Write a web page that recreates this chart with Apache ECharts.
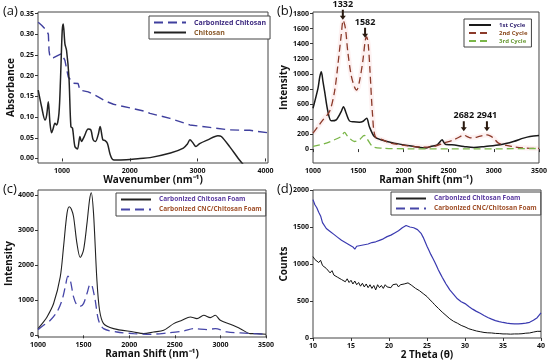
<!DOCTYPE html>
<html><head><meta charset="utf-8">
<script src="https://cdn.jsdelivr.net/npm/echarts@6.0.0/dist/echarts.min.js"></script>
<style>html,body{margin:0;padding:0;background:#fff}#c{width:550px;height:363px}</style>
</head><body><div id="c"></div>
<script>
// ---------- Panel (a): FTIR absorbance ----------
const aWaveChit = [650,700,750,775,799,824,847,870,897,921,956,980,1004,1019,1044,1068,1103,1132,1156,1191,1229,1265,1288,1328,1387,1426,1460,1494,1534,1563,1603,1637,1671,1710,1750,1800,1950,2150,2300,2600,2790,2850,2887,2930,2975,3030,3150,3300,3350,3475,3600,3700,3750];
const aAbsChit  = [0.165,0.125,0.093,0.105,0.137,0.085,0.062,0.072,0.085,0.081,0.109,0.197,0.309,0.325,0.277,0.261,0.197,0.077,0.073,0.029,0.023,0.053,0.041,0.053,0.071,0.069,0.045,0.041,0.057,0.077,0.045,0.043,0.036,0.01,-0.003,-0.004,-0.003,0.0,0.002,0.013,0.025,0.035,0.045,0.038,0.029,0.036,0.045,0.055,0.053,0.028,0.0,-0.02,-0.03];
const aWaveCarb = [650,700,774,800,810,824,870,950,995,1044,1093,1166,1239,1265,1387,1534,1650,1760,2005,2250,2298,2593,2887,3181,3475,3769,4040];
const aAbsCarb  = [0.329,0.322,0.309,0.30,0.26,0.245,0.243,0.25,0.253,0.237,0.197,0.182,0.181,0.165,0.161,0.149,0.138,0.131,0.122,0.113,0.109,0.097,0.081,0.075,0.069,0.068,0.062];
const aXTicks = [1000,2000,3000,4000];
const aYTicks = [0,0.05,0.10,0.15,0.20,0.25,0.30,0.35];
const aNames = ['Carbonized Chitosan','Chitosan'];

// ---------- Panel (b): Raman cycles ----------
const bX1 = [1000,1055,1075,1092,1110,1129,1165,1202,1257,1312,1337,1367,1403,1450,1513,1555,1594,1623,1678,1751,1898,2118,2250,2301,2375,2429,2445,2470,2536,2668,2778,2905,3071,3218,3328,3401,3500];
const bY1 = [543,808,960,1028,900,763,498,375,388,498,564,477,375,362,357,370,410,300,167,124,79,35,13,35,57,123,95,60,57,35,20,35,57,101,146,168,180];
const bX2 = [1000,1055,1110,1183,1238,1275,1312,1334,1359,1385,1422,1458,1484,1513,1550,1579,1594,1612,1631,1659,1689,1769,1861,2045,2228,2338,2448,2558,2631,2660,2700,2741,2815,2880,2925,2960,2998,3052,3198,3365,3500];
const bY2 = [212,300,388,498,763,1116,1513,1712,1602,1292,984,829,785,895,1160,1450,1491,1380,1028,454,167,123,79,44,26,35,79,124,168,189,170,150,160,180,189,175,146,79,35,13,9];
const bX3 = [1000,1128,1238,1312,1348,1385,1458,1513,1568,1605,1660,1751,2045,2778,3500];
const bY3 = [35,71,124,168,221,168,101,124,181,124,35,13,4,2,8];
const bXTicks = [1000,1500,2000,2500,3000,3500];
const bYTicks = [0,200,400,600,800,1000,1200,1400,1600,1800];
const bNames = ['1st Cycle','2nd Cycle','3rd Cycle'];
const annoLabels = ['1332','1582','2682','2941'];
const annoX = [1330,1576,2668,2924];
const annoY = [1784,1546,302,302];

// ---------- Panel (c): Raman foams ----------
const cX1 = [1000,1050,1099,1171,1244,1280,1318,1343,1365,1390,1427,1463,1499,1537,1565,1584,1609,1646,1675,1719,1828,2049,2159,2268,2378,2488,2579,2670,2743,2817,2890,2944,2999,3108,3218,3328,3400,3500];
const cY1 = [191,350,523,906,1666,2523,3477,3666,3600,3380,2620,2220,2429,3191,3857,4066,3477,1571,714,334,191,95,48,95,143,333,429,524,476,571,505,571,429,314,190,48,48,29];
const cX2 = [1000,1061,1135,1208,1263,1299,1328,1354,1390,1427,1463,1499,1537,1573,1591,1627,1664,1719,1865,2049,2232,2415,2598,2707,2853,2944,3072,3218,3500];
const cY2 = [162,286,429,666,1000,1380,1686,1571,1094,857,829,905,1190,1457,1430,1000,429,190,95,48,29,67,124,190,162,190,95,67,29];
const cXTicks = [1000,1500,2000,2500,3000,3500];
const cYTicks = [0,1000,2000,3000,4000];
const cdNames = ['Carbonized Chitosan Foam','Carbonized CNC/Chitosan Foam'];

// ---------- Panel (d): XRD ----------
const dTheta = [10,10.25,10.5,10.75,11,11.25,11.5,11.75,12,12.25,12.5,12.75,13,13.25,13.5,13.75,14,14.25,14.5,14.75,15,15.25,15.5,15.75,16,16.25,16.5,16.75,17,17.25,17.5,17.75,18,18.25,18.5,18.75,19,19.25,19.5,19.75,20,20.25,20.5,20.75,21,21.25,21.5,21.75,22,22.25,22.5,22.75,23,23.25,23.5,23.75,24,24.25,24.5,24.75,25,25.25,25.5,25.75,26,26.25,26.5,26.75,27,27.25,27.5,27.75,28,28.25,28.5,28.75,29,29.25,29.5,29.75,30,30.25,30.5,30.75,31,31.25,31.5,31.75,32,32.25,32.5,32.75,33,33.25,33.5,33.75,34,34.25,34.5,34.75,35,35.25,35.5,35.75,36,36.25,36.5,36.75,37,37.25,37.5,37.75,38,38.25,38.5,38.75,39,39.25,39.5,39.75,40];
const dChit = [1100,1060,1080,1020,1050,980,1000,940,930,880,910,850,870,820,840,790,810,760,800,750,780,730,770,720,750,700,740,690,730,680,720,670,710,650,720,680,710,670,720,690,710,680,720,700,730,690,720,700,730,710,745,720,710,690,670,660,640,620,600,580,560,530,510,480,450,430,400,375,350,330,305,280,260,245,225,210,200,185,170,160,150,140,125,120,110,100,95,88,85,80,75,72,70,65,68,60,62,55,60,52,55,50,55,45,52,48,55,45,55,60,58,65,65,70,68,75,80,78,90,85,90];
const dCnc  = [1870,1800,1760,1700,1650,1560,1540,1480,1500,1440,1460,1400,1420,1360,1380,1320,1340,1290,1310,1260,1280,1230,1200,1240,1220,1250,1230,1260,1240,1270,1250,1290,1270,1300,1290,1320,1310,1340,1330,1370,1360,1390,1400,1420,1430,1450,1460,1490,1480,1520,1530,1500,1510,1490,1480,1465,1450,1410,1360,1300,1240,1185,1130,1080,1030,975,920,870,820,775,730,690,650,620,590,560,530,510,490,470,465,445,425,405,390,375,360,345,335,320,305,290,278,265,255,245,235,228,222,215,210,205,200,198,195,192,190,188,190,192,195,198,200,205,212,220,240,255,275,300,340];
const dXTicks = [10,15,20,25,30,35,40];
const dYTicks = [0,500,1000,1500,2000];

// ---------- build ----------
const F = '"Open Sans", Arial, sans-serif';
const zip = (xs, ys) => xs.map((x, i) => [x, ys[i]]);
const nameStyle = {fontFamily: F, fontWeight: 'bold', fontSize: 10, color: '#111'};
function ax(gi, min, max, ticks, name, gap, fmt, rot) {
  return {
    type: 'value', gridIndex: gi, min: min, max: max, name: name,
    nameLocation: 'middle', nameGap: gap, nameRotate: rot || 0, nameTextStyle: nameStyle,
    axisLine: {show: false}, splitLine: {show: false},
    axisTick: {show: true, customValues: ticks, length: 3, lineStyle: {color: '#333'}},
    axisLabel: {customValues: ticks, fontFamily: F, fontWeight: 'bold', fontSize: 7, color: '#111', margin: 4,
      formatter: fmt || (v => String(v))}
  };
}
function legend(left, top, names, colors, iw, fs, gap) {
  return {
    orient: 'vertical', left: left, top: top, itemWidth: iw, itemHeight: 6, itemGap: gap,
    borderColor: '#444', borderWidth: 1, padding: [3, 4, 3, 4], borderRadius: 0,
    backgroundColor: '#fff',
    itemStyle: {opacity: 0},
    textStyle: {fontFamily: F, fontWeight: 'bold', fontSize: fs, padding: [0, 0, 0, 3]},
    selectedMode: false,
    data: names.map((n, i) => ({name: n, textStyle: {color: colors[i]}}))
  };
}
const gridStyle = {show: true, borderColor: '#444', borderWidth: 1, backgroundColor: 'transparent'};
const line = (name, xi, yi, data, color, width, dash, smooth, extra) => Object.assign({
  type: 'line', name: name, xAxisIndex: xi, yAxisIndex: yi, data: data, symbol: 'none',
  smooth: smooth, lineStyle: {color: color, width: width, type: dash || 'solid'}, itemStyle: {color: color},
  animation: false
}, extra || {});

const arrowPath = 'path://M-1,0 L1,0 L1,6 L3,6 L0,10 L-3,6 L-1,6 Z';

const option = {
  animation: false,
  backgroundColor: '#fff',
  grid: [
    Object.assign({left: 38, top: 12, width: 230, height: 151}, gridStyle),
    Object.assign({left: 313, top: 12, width: 228, height: 151}, gridStyle),
    Object.assign({left: 38, top: 190, width: 228, height: 147}, gridStyle),
    Object.assign({left: 313, top: 190, width: 228, height: 148}, gridStyle)
  ],
  xAxis: [
    ax(0, 647, 4038, aXTicks, 'Wavenumber (nm\u207B\u00B9)', 9),
    ax(1, 1000, 3500, bXTicks, 'Raman Shift (nm\u207B\u00B9)', 10),
    ax(2, 1000, 3500, cXTicks, 'Raman Shift (nm\u207B\u00B9)', 12),
    ax(3, 10, 40, dXTicks, '2 Theta (\u03B8)', 11)
  ],
  yAxis: [
    ax(0, -0.011, 0.354, aYTicks, 'Absorbance', 21, v => v.toFixed(2), 90),
    ax(1, -185, 1822, bYTicks, 'Intensity', 21, null, 90),
    ax(2, -48, 4143, cYTicks, 'Intensity', 22, null, 90),
    ax(3, 0, 2000, dYTicks, 'Counts', 22, null, 90)
  ],
  legend: [
    legend(149, 16, aNames, ['#3d2a80', '#8a5a2a'], 32, 7, 3),
    legend(464, 19, bNames, ['#2e1f6e', '#8a4a1e', '#6a9a36'], 22, 6, 2),
    legend(116, 193, cdNames, ['#5a3aa0', '#a0502a'], 30, 6.5, 3),
    legend(391, 192, cdNames, ['#5a3aa0', '#a0502a'], 30, 6.5, 3)
  ],
  graphic: [
    {type: 'text', left: 3, top: 5, style: {text: '(a)', fontFamily: F, fontSize: 13, fill: '#111'}},
    {type: 'text', left: 277, top: 5, style: {text: '(b)', fontFamily: F, fontSize: 13, fill: '#111'}},
    {type: 'text', left: 3, top: 183, style: {text: '(c)', fontFamily: F, fontSize: 13, fill: '#111'}},
    {type: 'text', left: 277, top: 183, style: {text: '(d)', fontFamily: F, fontSize: 13, fill: '#111'}}
  ],
  series: [
    line(aNames[0], 0, 0, zip(aWaveCarb, aAbsCarb), '#3f3f9e', 1.4, [9, 5], false),
    line(aNames[1], 0, 0, zip(aWaveChit, aAbsChit), '#222', 1.5, 'solid', 0.3),
    line('glow', 1, 1, zip(bX2, bY2), 'rgba(240,165,165,0.16)', 5, 'solid', 0.3),
    line(bNames[0], 1, 1, zip(bX1, bY1), '#1a1a1a', 1.5, 'solid', 0.3),
    line(bNames[1], 1, 1, zip(bX2, bY2), '#8b3a2a', 1.3, [7, 4], 0.3, {
      markPoint: {
        symbol: arrowPath, symbolSize: [6, 10], symbolKeepAspect: false,
        itemStyle: {color: '#2a1a10'},
        label: {show: true, position: 'top', distance: 1, fontFamily: F, fontWeight: 'bold', fontSize: 9, color: '#111',
          formatter: p => p.name},
        data: annoLabels.map((t, i) => ({name: t, coord: [annoX[i], annoY[i]]}))
      }
    }),
    line(bNames[2], 1, 1, zip(bX3, bY3), '#7ab648', 1.3, [7, 4], 0.3),
    line(cdNames[0], 2, 2, zip(cX1, cY1), '#222', 1.1, 'solid', 0.3),
    line(cdNames[1], 2, 2, zip(cX2, cY2), '#4646a8', 1.3, [9, 5], 0.3),
    line(cdNames[0], 3, 3, zip(dTheta, dChit), '#111', 1, 'solid', false),
    line(cdNames[1], 3, 3, zip(dTheta, dCnc), '#3a3ab0', 1.2, 'solid', false)
  ]
};
const chart = echarts.init(document.getElementById('c'));
chart.setOption(option);
</script></body></html>
